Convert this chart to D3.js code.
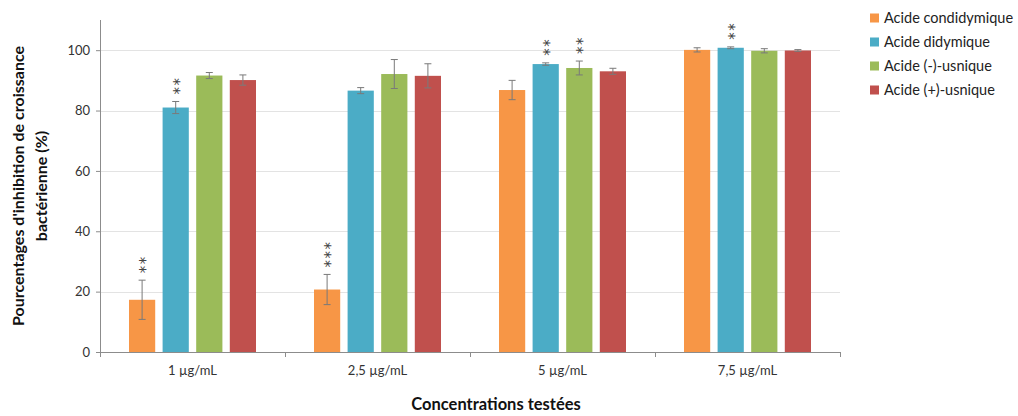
<!DOCTYPE html>
<html lang="fr">
<meta charset="utf-8">
<head>
<title>Inhibition</title>
<style>
  body { margin: 0; background: #fff; }
  text { font-family: Lato, "Open Sans", sans-serif; fill: #222; }
  .grid line { stroke: #e3e3e3; }
  .axis path, .axis line { stroke: #8c8c8c; }
  .err { stroke: #7a7a7a; stroke-width: 1; }
  .star { fill: #444; font-size: 15px; font-family: "DejaVu Sans", sans-serif; }
</style>
</head>
<body>
<svg width="1018" height="416"></svg>
<script src="https://cdn.jsdelivr.net/npm/d3@7"></script>
<script>

var categories = ["1 µg/mL", "2,5 µg/mL", "5 µg/mL", "7,5 µg/mL"];
var seriesNames = ["Acide condidymique", "Acide didymique", "Acide (-)-usnique", "Acide (+)-usnique"];
var colors = ["#f79646", "#4bacc6", "#9bbb59", "#c0504d"];

// mean values per series (one per concentration)
var condidymique = [17.3, 20.7, 86.8, 100.1];
var didymique = [81.0, 86.6, 95.4, 100.8];
var usniqueMoins = [91.6, 92.1, 94.1, 99.8];
var usniquePlus = [90.1, 91.5, 93.0, 99.9];

// standard deviations
var errCondidymique = [6.5, 5.0, 3.2, 0.7];
var errDidymique = [2.0, 1.0, 0.4, 0.3];
var errUsniqueMoins = [1.0, 4.8, 2.3, 0.7];
var errUsniquePlus = [1.7, 4.0, 1.0, 0.3];

// number of significance stars
var starsCondidymique = [2, 3, 0, 0];
var starsDidymique = [2, 0, 2, 2];
var starsUsniqueMoins = [0, 0, 2, 0];
var starsUsniquePlus = [0, 0, 0, 0];

var yTicks = [0, 20, 40, 60, 80, 100];

var values = [condidymique, didymique, usniqueMoins, usniquePlus],
    errors = [errCondidymique, errDidymique, errUsniqueMoins, errUsniquePlus],
    stars = [starsCondidymique, starsDidymique, starsUsniqueMoins, starsUsniquePlus];

var rows = [];
categories.forEach(function(c, i) {
  seriesNames.forEach(function(s, j) {
    rows.push({cat: c, serie: s, j: j, v: values[j][i], e: errors[j][i], n: stars[j][i]});
  });
});

var svg = d3.select("svg"),
    margin = {top: 20, right: 178, bottom: 64, left: 100},
    width = 1018 - margin.left - margin.right,
    height = 416 - margin.top - margin.bottom,
    g = svg.append("g").attr("transform", "translate(" + margin.left + "," + margin.top + ")");

var x0 = d3.scaleBand().domain(categories).range([0, width]).padding(0),
    x1 = d3.scaleBand().domain(seriesNames).range([29, x0.bandwidth() - 29]).paddingInner(0.22),
    y = d3.scaleLinear().domain([0, 110]).range([height, 0]);

// gridlines
g.append("g")
    .attr("class", "grid")
    .selectAll("line")
    .data(yTicks.slice(1))
    .enter().append("line")
      .attr("x1", 0).attr("x2", width)
      .attr("y1", function(d) { return Math.round(y(d)) + 0.5; })
      .attr("y2", function(d) { return Math.round(y(d)) + 0.5; });

// y axis
var yAxis = g.append("g")
    .attr("class", "axis")
    .call(d3.axisLeft(y).tickValues(yTicks).tickSize(4).tickPadding(6));
yAxis.selectAll("text").style("font-size", "13px").style("fill", "#333");
yAxis.select(".domain").attr("d", "M0.5," + y(110) + "V" + height);

// bars
var bar = g.selectAll(".bar")
    .data(rows)
    .enter().append("g")
      .attr("class", "bar")
      .attr("transform", function(d) { return "translate(" + (x0(d.cat) + x1(d.serie)) + ",0)"; });

bar.append("rect")
    .attr("y", function(d) { return y(d.v); })
    .attr("width", x1.bandwidth())
    .attr("height", function(d) { return height - y(d.v); })
    .attr("fill", function(d) { return colors[d.j]; });

// error bars
var cx = x1.bandwidth() / 2;
bar.append("line").attr("class", "err")
    .attr("x1", cx).attr("x2", cx)
    .attr("y1", function(d) { return y(d.v + d.e); })
    .attr("y2", function(d) { return y(d.v - d.e); });
bar.append("line").attr("class", "err")
    .attr("x1", cx - 3.5).attr("x2", cx + 3.5)
    .attr("y1", function(d) { return y(d.v + d.e); })
    .attr("y2", function(d) { return y(d.v + d.e); });
bar.append("line").attr("class", "err")
    .attr("x1", cx - 3.5).attr("x2", cx + 3.5)
    .attr("y1", function(d) { return y(d.v - d.e); })
    .attr("y2", function(d) { return y(d.v - d.e); });

// stars: one rotated text per bar so they stack upward
bar.filter(function(d) { return d.n > 0; })
  .append("text")
    .attr("class", "star")
    .attr("transform", function(d) {
      return "translate(" + cx + "," + (y(d.v + d.e) - 7) + ") rotate(-90)";
    })
    .attr("dy", "0.6em")
    .style("letter-spacing", "1.5px")
    .text(function(d) { return "*".repeat(d.n); });

// x axis
var xAxis = g.append("g")
    .attr("class", "axis")
    .attr("transform", "translate(0," + height + ")")
    .call(d3.axisBottom(x0).tickSize(0).tickPadding(14));
xAxis.selectAll("text").style("font-size", "13px").style("fill", "#333");
xAxis.select(".domain").attr("d", "M0,0.5H" + width);
xAxis.selectAll(".sep")
    .data(d3.range(categories.length + 1))
    .enter().append("line")
      .attr("x1", function(i) { return Math.round(i * x0.bandwidth()) + 0.5; })
      .attr("x2", function(i) { return Math.round(i * x0.bandwidth()) + 0.5; })
      .attr("y1", 0).attr("y2", 5)
      .attr("stroke", "#8c8c8c");

// axis titles
svg.append("text")
    .attr("transform", "translate(19,186) rotate(-90)")
    .attr("text-anchor", "middle")
    .style("font-size", "16px").style("font-weight", "bold").style("fill", "#111")
  .selectAll("tspan")
  .data(["Pourcentages d'inhibition de croissance", "bactérienne (%)"])
  .enter().append("tspan")
    .attr("x", 0)
    .attr("dy", function(d, i) { return i ? 23 : 5; })
    .text(function(d) { return d; });

svg.append("text")
    .attr("x", 496).attr("y", 410)
    .attr("text-anchor", "middle")
    .style("font-size", "16.5px").style("font-weight", "bold").style("fill", "#111")
    .text("Concentrations testées");

// legend
var legend = svg.append("g").selectAll("g")
    .data(seriesNames)
    .enter().append("g")
      .attr("transform", function(d, i) { return "translate(870," + (18 + i * 24) + ")"; });
legend.append("rect")
    .attr("y", -4.5).attr("width", 9).attr("height", 9)
    .attr("fill", function(d, i) { return colors[i]; });
legend.append("text")
    .attr("x", 14).attr("dy", "0.35em")
    .style("font-size", "14.5px").style("fill", "#222")
    .text(function(d) { return d; });

</script>
</body>
</html>
